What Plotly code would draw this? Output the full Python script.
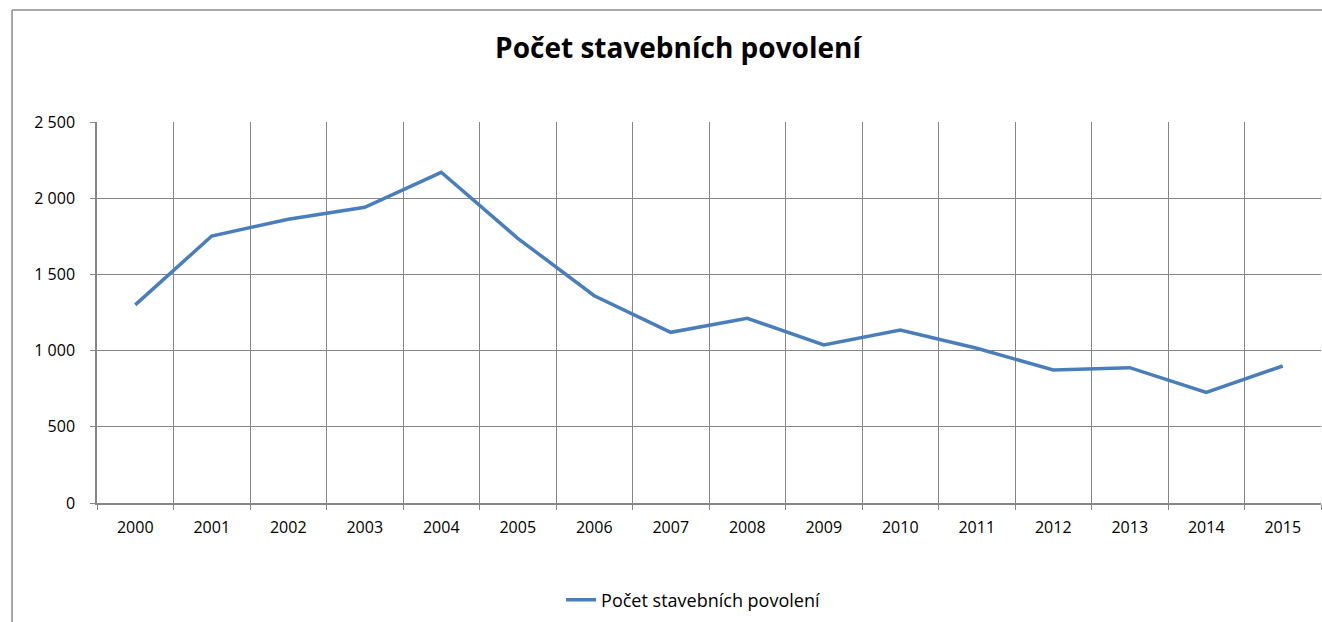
import plotly.graph_objects as go

years = ["2000", "2001", "2002", "2003", "2004", "2005", "2006", "2007",
         "2008", "2009", "2010", "2011", "2012", "2013", "2014", "2015"]
povoleni = [1300, 1752, 1862, 1940, 2170, 1737, 1360, 1120,
            1212, 1037, 1135, 1015, 873, 888, 726, 899]
y_ticks = [0, 500, 1000, 1500, 2000, 2500]
y_labels = ["0", "500", "1 000", "1 500", "2 000", "2 500"]

grid = "#868686"
frame = "#8c8c8c"
font = "'Open Sans', Lato, sans-serif"

fig = go.Figure()
fig.add_trace(go.Scatter(
    x=years, y=povoleni, mode="lines", name="Počet stavebních povolení",
    line=dict(color="#4A7EBB", width=3.5),
))

fig.update_layout(
    width=1322, height=622,
    margin=dict(l=97, r=1, t=122, b=119),
    paper_bgcolor="white", plot_bgcolor="white",
    font=dict(family=font, size=16, color="black"),
    title=dict(text="<b>Počet stavebních povolení</b>", x=0.4747, xref="paper",
               xanchor="center", y=1 - 48 / 622, yanchor="middle",
               font=dict(size=28, color="black")),
    showlegend=True,
    legend=dict(orientation="h", x=0.487, xanchor="center", y=-0.2546,
                yanchor="middle", font=dict(size=18)),
    # chart-area frame: only the left and top edges fall inside the window
    shapes=[
        dict(type="line", xref="paper", yref="paper", x0=-0.0694, x1=-0.0694,
             y0=-0.4, y1=1.294, line=dict(color=frame, width=1.5)),
        dict(type="line", xref="paper", yref="paper", x0=-0.0694, x1=1.1,
             y0=1.294, y1=1.294, line=dict(color=frame, width=1.5)),
    ],
)

fig.update_xaxes(
    type="category", tickson="boundaries", showgrid=True, gridcolor=grid,
    gridwidth=1, ticks="outside", ticklen=5, tickcolor=grid,
    showline=True, linecolor=grid, linewidth=1.5, ticklabelstandoff=9,
    range=[-0.5, 15.5], zeroline=False,
)
fig.update_yaxes(
    range=[0, 2500], tickvals=y_ticks, ticktext=y_labels, showgrid=True,
    gridcolor=grid, gridwidth=1, ticks="outside", ticklen=5, tickcolor=grid,
    showline=True, linecolor=grid, linewidth=1.5, zeroline=False,
    ticklabelstandoff=12,
)

# drop the default page margin so the chart fills the window exactly
fig.write_html("out.html", config={"displayModeBar": False},
               post_script="document.body.style.margin='0';"
                           "document.body.style.overflow='hidden';")
